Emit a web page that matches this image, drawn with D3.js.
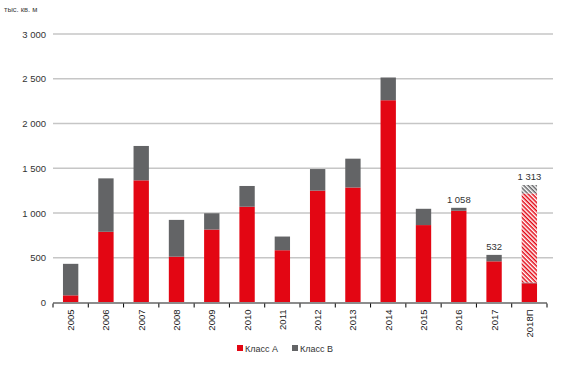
<!DOCTYPE html>
<html>
<head>
<meta charset="utf-8">
<script src="https://cdn.jsdelivr.net/npm/d3@7"></script>
<style>
  body { margin: 0; background: #fff; }
  text { font-family: "Liberation Sans", Arial, sans-serif; }
</style>
</head>
<body>
<div id="chart"></div>
<script>
const WIDTH = 570, HEIGHT = 378;
const MARGIN = { LEFT: 53, RIGHT: 24, TOP: 34, BOTTOM: 75 };

// data
const years = ["2005", "2006", "2007", "2008", "2009", "2010", "2011", "2012", "2013", "2014", "2015", "2016", "2017", "2018П"];
const classA = [80, 790, 1365, 512, 815, 1070, 584, 1250, 1285, 2260, 865, 1025, 460, 215];
const classB = [352, 597, 384, 411, 182, 232, 153, 241, 322, 254, 182, 33, 72, 8];
// прогноз (штриховка) только для 2018П
const planA = [0, 0, 0, 0, 0, 0, 0, 0, 0, 0, 0, 0, 0, 995];
const planB = [0, 0, 0, 0, 0, 0, 0, 0, 0, 0, 0, 0, 0, 95];
const labels = { "2016": "1 058", "2017": "532", "2018П": "1 313" };
const yTicks = [0, 500, 1000, 1500, 2000, 2500, 3000];

const RED = "#e30613", GREY = "#636466";

const svg = d3.select("#chart").append("svg")
    .attr("width", WIDTH)
    .attr("height", HEIGHT);

const defs = svg.append("defs");
function hatch(id, color) {
    const p = defs.append("pattern")
        .attr("id", id)
        .attr("patternUnits", "userSpaceOnUse")
        .attr("width", 3).attr("height", 3)
        .attr("patternTransform", "rotate(45)");
    p.append("rect").attr("width", 3).attr("height", 3).attr("fill", "#fff");
    p.append("rect").attr("width", 3).attr("height", 1.5).attr("fill", color);
}
hatch("hatchA", RED);
hatch("hatchB", GREY);

const x = d3.scaleBand()
    .domain(years)
    .range([MARGIN.LEFT, WIDTH - MARGIN.RIGHT + 1])
    .paddingInner(0.565)
    .paddingOuter(0.2825);

const y = d3.scaleLinear()
    .domain([0, 3000])
    .range([HEIGHT - MARGIN.BOTTOM - 0.5, MARGIN.TOP]);

const fmt = v => d3.format(",")(v).replace(/,/g, " ");

// gridlines
svg.append("g")
    .selectAll("line")
    .data(yTicks.filter(d => d > 0))
    .enter().append("line")
    .attr("x1", MARGIN.LEFT)
    .attr("x2", 553)
    .attr("y1", d => y(d))
    .attr("y2", d => y(d))
    .attr("stroke", "#c6c6c6")
    .attr("stroke-width", 1.5);

// y labels
svg.append("g")
    .selectAll("text")
    .data(yTicks)
    .enter().append("text")
    .attr("x", 46)
    .attr("y", d => y(d) + 3.5)
    .attr("text-anchor", "end")
    .style("font-size", "9.5px")
    .style("fill", "#333")
    .text(d => fmt(d));

// bars
const rows = years.map((yr, i) => ({ yr, a: classA[i], b: classB[i], pa: planA[i], pb: planB[i] }));
const segs = [];
rows.forEach(d => {
    let base = 0;
    [["a", RED], ["b", GREY], ["pa", "url(#hatchA)"], ["pb", "url(#hatchB)"]].forEach(([k, fill]) => {
        if (d[k] > 0) {
            segs.push({ yr: d.yr, y0: base, y1: base + d[k], fill });
            base += d[k];
        }
    });
    d.total = base;
});

svg.append("g")
    .selectAll("rect")
    .data(segs)
    .enter().append("rect")
    .attr("x", d => x(d.yr))
    .attr("width", x.bandwidth())
    .attr("y", d => y(d.y1))
    .attr("height", d => y(d.y0) - y(d.y1))
    .attr("fill", d => d.fill);

// x axis
const axisY = y(0);
svg.append("line")
    .attr("x1", MARGIN.LEFT)
    .attr("x2", x.range()[1])
    .attr("y1", axisY + 0.5)
    .attr("y2", axisY + 0.5)
    .attr("stroke", "#8c8c8c")
    .attr("stroke-width", 2);

const step = x.step();
svg.append("g")
    .selectAll("line")
    .data(d3.range(years.length + 1))
    .enter().append("line")
    .attr("x1", i => MARGIN.LEFT + i * step)
    .attr("x2", i => MARGIN.LEFT + i * step)
    .attr("y1", axisY + 1)
    .attr("y2", axisY + 5)
    .attr("stroke", "#000")
    .attr("stroke-width", 1);

svg.append("g")
    .selectAll("text")
    .data(years)
    .enter().append("text")
    .attr("transform", d => `translate(${x(d) + x.bandwidth() / 2 + 3.5}, ${axisY + 7}) rotate(-90)`)
    .attr("text-anchor", "end")
    .style("font-size", "9.5px")
    .style("fill", "#222")
    .text(d => d);

// value labels
svg.append("g")
    .selectAll("text")
    .data(rows.filter(d => labels[d.yr]))
    .enter().append("text")
    .attr("x", d => x(d.yr) + x.bandwidth() / 2)
    .attr("y", d => y(d.total) - 5)
    .attr("text-anchor", "middle")
    .style("font-size", "9.5px")
    .style("fill", "#333")
    .text(d => labels[d.yr]);

// unit title
svg.append("text")
    .attr("x", 4)
    .attr("y", 12)
    .style("font-size", "7.5px")
    .style("fill", "#444")
    .text("тыс. кв. м");

// legend
const legend = [{ name: "Класс А", color: RED, x: 237 }, { name: "Класс В", color: GREY, x: 292 }];
const lg = svg.append("g").selectAll("g").data(legend).enter().append("g")
    .attr("transform", d => `translate(${d.x}, 345)`);
lg.append("rect").attr("width", 6).attr("height", 6).attr("fill", d => d.color);
lg.append("text").attr("x", 8).attr("y", 6.5)
    .style("font-size", "9px").style("fill", "#333")
    .text(d => d.name);
</script>
</body>
</html>
